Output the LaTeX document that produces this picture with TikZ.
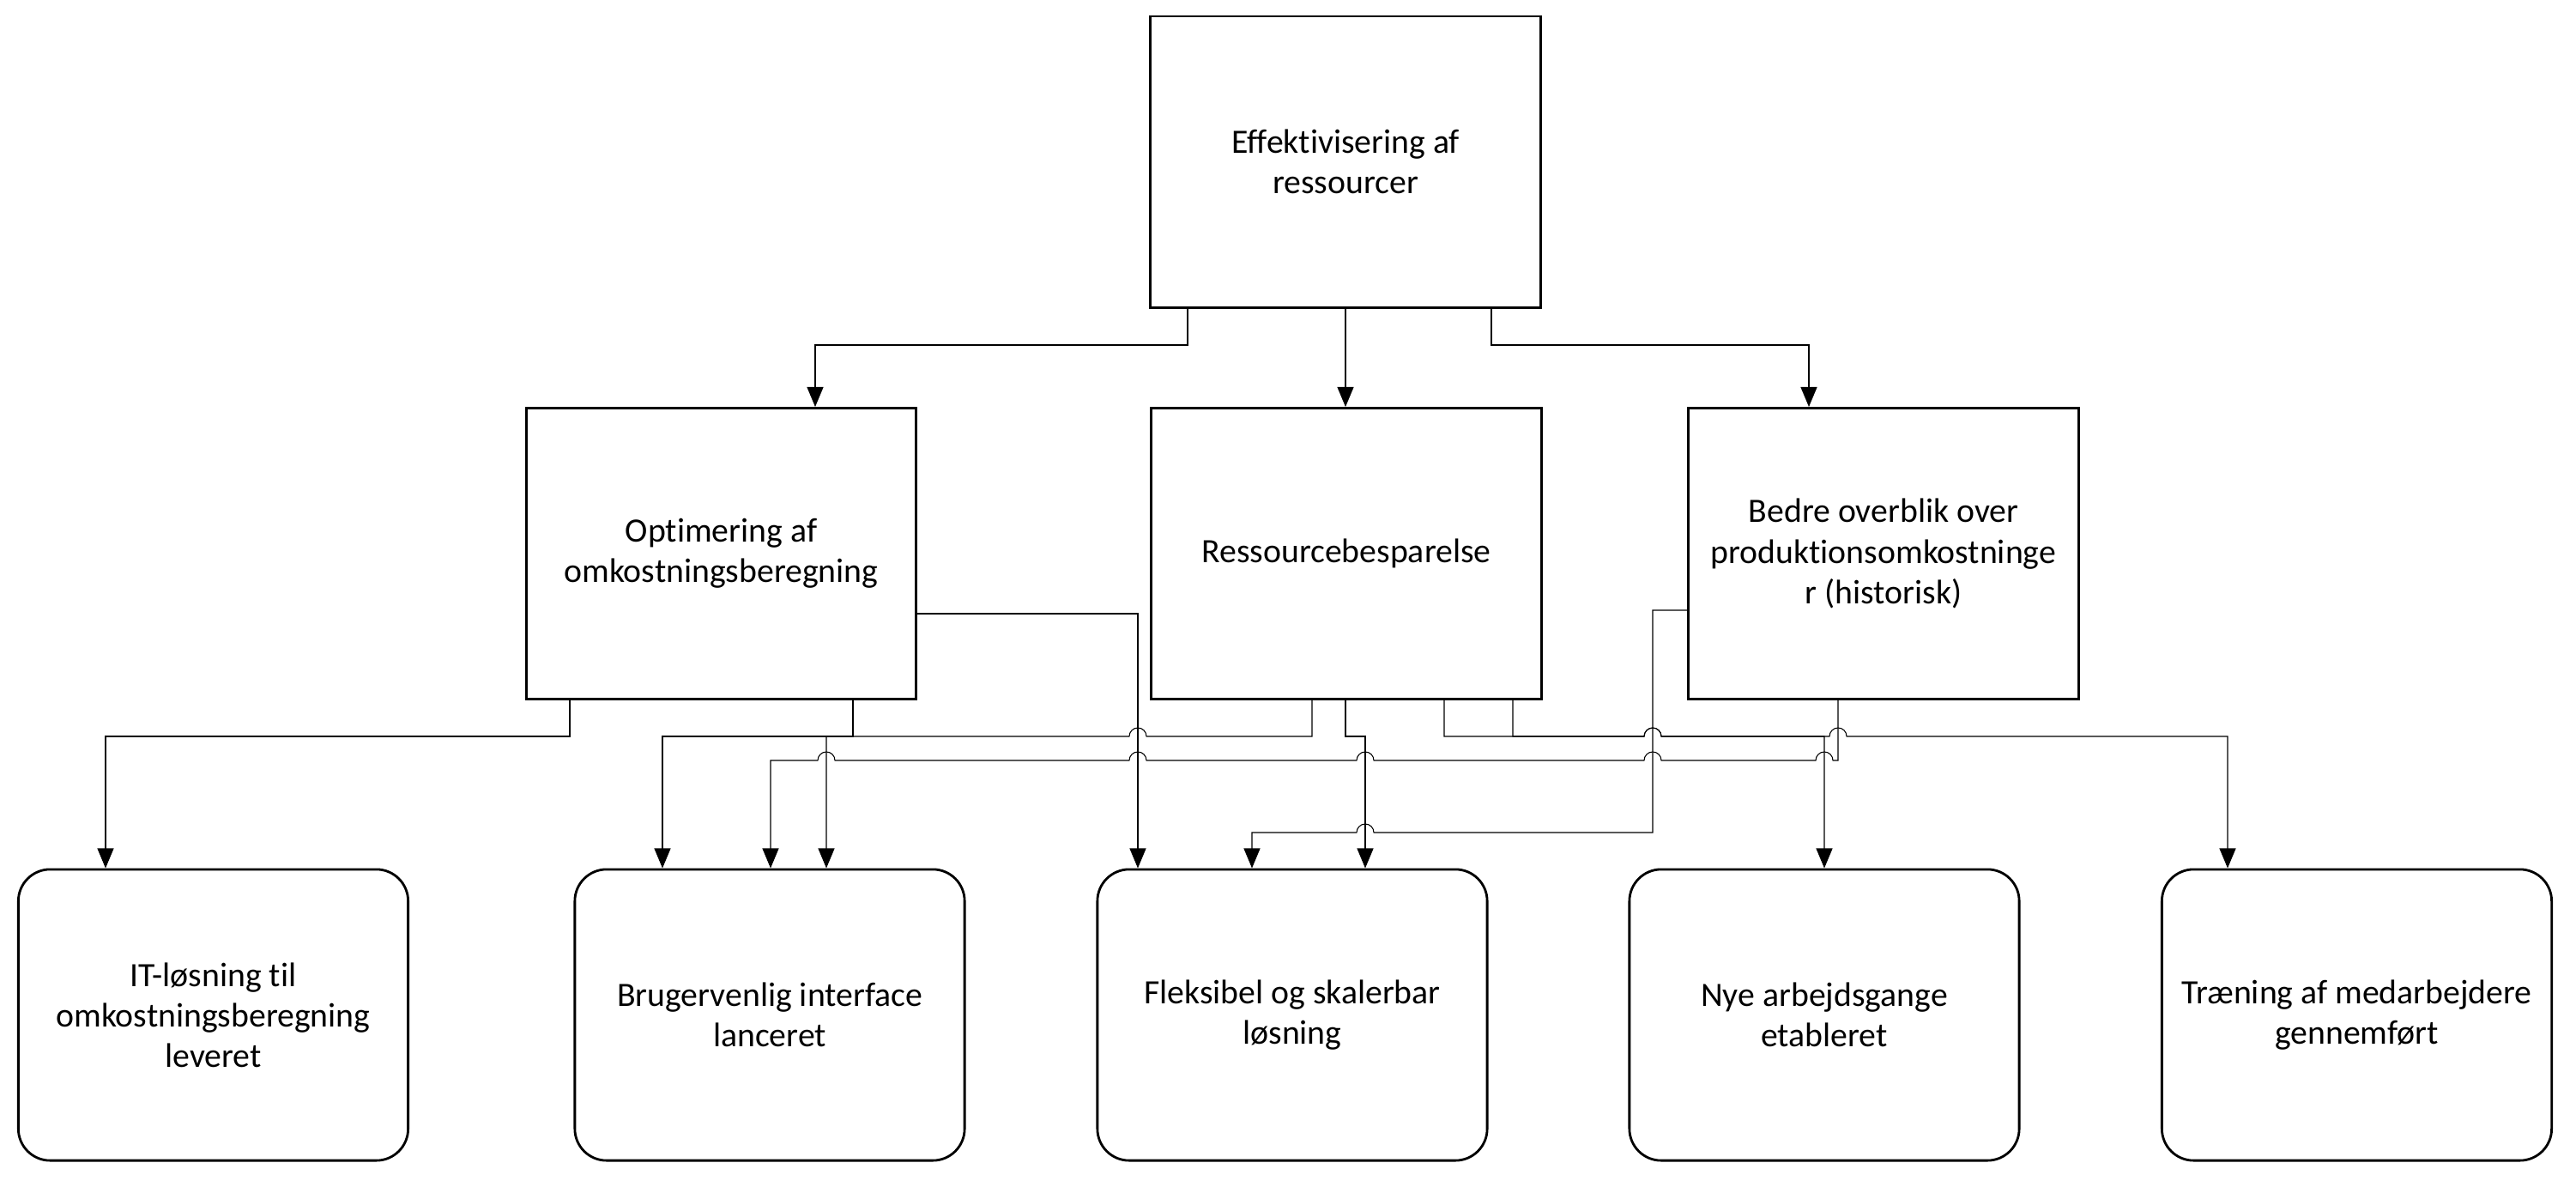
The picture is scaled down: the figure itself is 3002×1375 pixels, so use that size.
\documentclass[tikz,border=0pt]{standalone}
\usepackage{fontspec}
\setmainfont{Carlito}[Ligatures=NoCommon]
\usetikzlibrary{arrows.meta}
\tikzstyle{bx}=[rectangle, draw, line width=0.8pt, align=center, inner sep=0pt, minimum width=4.54cm, minimum height=3.39cm, font=\fontsize{11.3}{13.4}\selectfont]
\tikzstyle{rbx}=[bx, rounded corners=3.7mm]
\tikzstyle{cn}=[-{Triangle[length=2.3mm, width=1.9mm]}, line width=0.3pt]
\begin{document}
\begin{tikzpicture}[x=0.01cm, y=-0.01cm]
\useasboundingbox (0,0) rectangle (3002,1375);
% goals
\node[bx] (t) at (1568,188.5) {Effektivisering af\\ressourcer};
\node[bx] (m1) at (840.5,645) {Optimering af\\omkostningsberegning};
\node[bx] (m2) at (1569,645) {Ressourcebesparelse};
\node[bx] (m3) at (2195,645) {Bedre overblik over\\produktionsomkostninge\\r (historisk)};
% results
\node[rbx] (b1) at (248.5,1182.5) {IT-løsning til\\omkostningsberegning\\leveret};
\node[rbx] (b2) at (897,1182.5) {Brugervenlig interface\\lanceret};
\node[rbx] (b3) at (1506,1182.5) {Fleksibel og skalerbar\\løsning};
\node[rbx] (b4) at (2126,1182.5) {Nye arbejdsgange\\etableret};
\node[rbx] (b5) at (2746.5,1182.5) {Træning af medarbejdere\\gennemført};

\draw[cn] (t.south -| 1384,0) -- (1384,402) -- (950,402) -- (m1.north -| 950,0);
\draw[cn] (t.south) -- (m2.north -| t.south);
\draw[cn] (t.south -| 1738,0) -- (1738,402) -- (2108,402) -- (m3.north -| 2108,0);

\draw[cn] (m1.south -| 664,0) -- (664,858) -- (123,858) -- (b1.north -| 123,0);
\draw[cn] (m1.south -| 994,0) -- (994,858) -- (772,858) -- (b2.north -| 772,0);
\draw[cn] (m1.east |- 0,715) -- (1326,715) -- (b3.north -| 1326,0);

\draw[cn] (m2.south -| 1529,0) -- (1529,858) -- (1336,858) arc[start angle=0, end angle=180, radius=1mm] -- (963,858) -- (b2.north -| 963,0);
\draw[cn] (m2.south -| 1568,0) -- (1568,858) -- (1591,858) -- (b3.north -| 1591,0);
\draw[cn] (m2.south -| 1683,0) -- (1683,858) -- (1916,858) arc[start angle=180, end angle=0, radius=1mm] -- (2132,858) arc[start angle=180, end angle=0, radius=1mm] -- (2596,858) -- (b5.north -| 2596,0);
\draw[cn] (m2.south -| 1763,0) -- (1763,858) -- (1916,858) arc[start angle=180, end angle=0, radius=1mm] -- (2126,858) -- (b4.north -| 2126,0);

\draw[cn] (m3.south -| 2142,0) -- (2142,886) -- (2136,886) arc[start angle=0, end angle=180, radius=1mm] -- (1936,886) arc[start angle=0, end angle=180, radius=1mm] -- (1601,886) arc[start angle=0, end angle=180, radius=1mm] -- (1336,886) arc[start angle=0, end angle=180, radius=1mm] -- (973,886) arc[start angle=0, end angle=180, radius=1mm] -- (898,886) -- (b2.north -| 898,0);
\draw[cn] (m3.west |- 0,711) -- (1926,711) -- (1926,970) -- (1601,970) arc[start angle=0, end angle=180, radius=1mm] -- (1459,970) -- (b3.north -| 1459,0);
\end{tikzpicture}
\end{document}
